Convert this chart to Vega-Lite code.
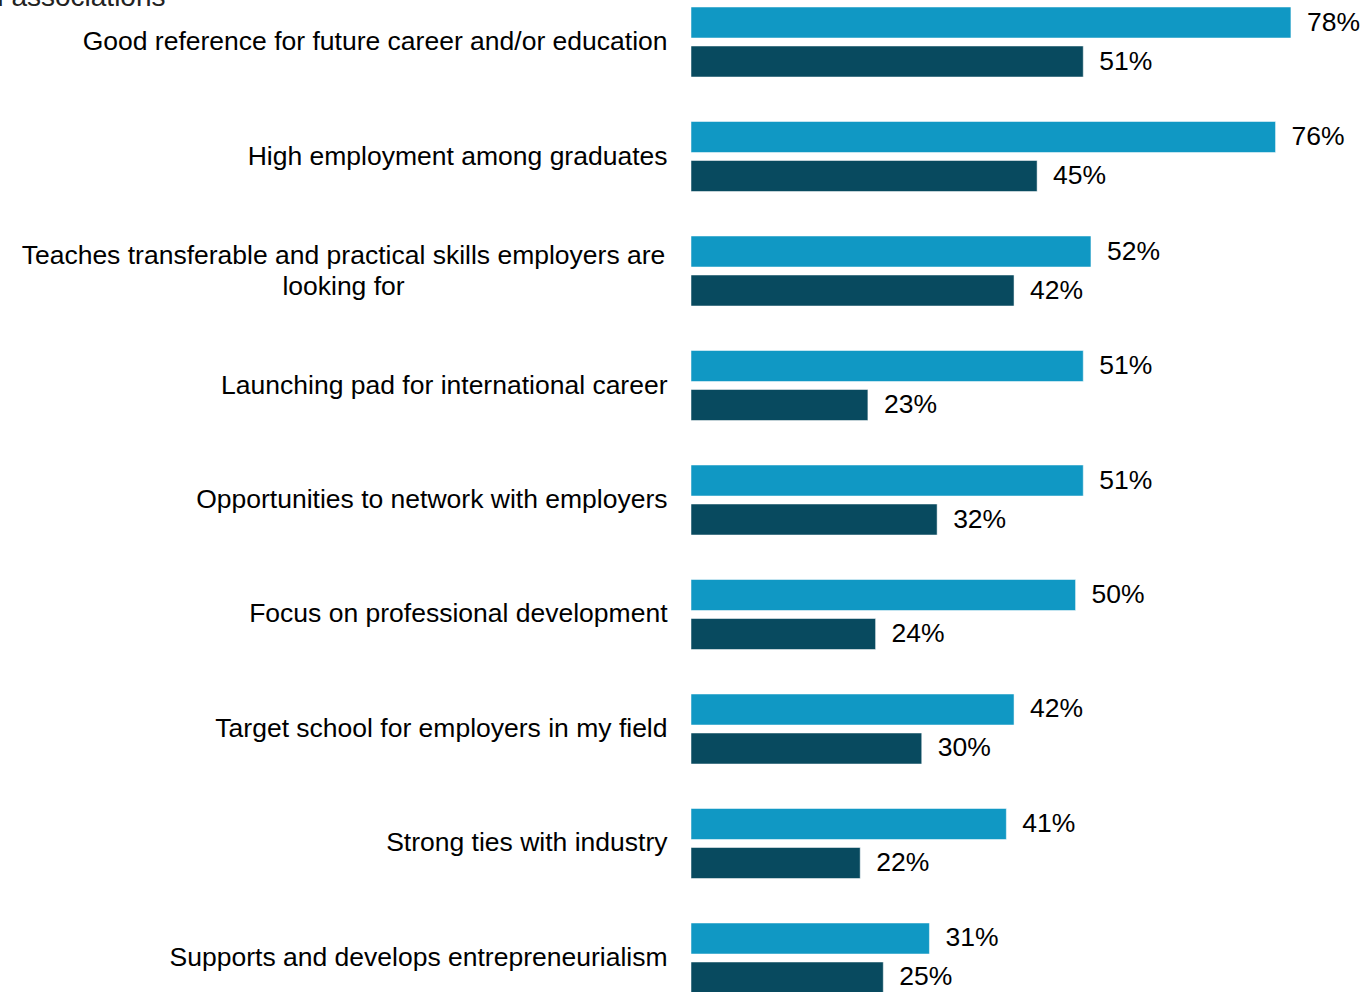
{
  "$schema": "https://vega.github.io/schema/vega-lite/v6.json",
  "autosize": {"type": "none"},
  "padding": {"left": 691, "top": 7, "right": 0, "bottom": 0},
  "width": 673,
  "height": 986,
  "background": "white",
  "data": {
    "values": [
      {"item": "Good reference for future career and/or education", "series": "Series 1", "value": 78},
      {"item": "Good reference for future career and/or education", "series": "Series 2", "value": 51},
      {"item": "High employment among graduates", "series": "Series 1", "value": 76},
      {"item": "High employment among graduates", "series": "Series 2", "value": 45},
      {"item": "Teaches transferable and practical skills employers are looking for", "series": "Series 1", "value": 52},
      {"item": "Teaches transferable and practical skills employers are looking for", "series": "Series 2", "value": 42},
      {"item": "Launching pad for international career", "series": "Series 1", "value": 51},
      {"item": "Launching pad for international career", "series": "Series 2", "value": 23},
      {"item": "Opportunities to network with employers", "series": "Series 1", "value": 51},
      {"item": "Opportunities to network with employers", "series": "Series 2", "value": 32},
      {"item": "Focus on professional development", "series": "Series 1", "value": 50},
      {"item": "Focus on professional development", "series": "Series 2", "value": 24},
      {"item": "Target school for employers in my field", "series": "Series 1", "value": 42},
      {"item": "Target school for employers in my field", "series": "Series 2", "value": 30},
      {"item": "Strong ties with industry", "series": "Series 1", "value": 41},
      {"item": "Strong ties with industry", "series": "Series 2", "value": 22},
      {"item": "Supports and develops entrepreneurialism", "series": "Series 1", "value": 31},
      {"item": "Supports and develops entrepreneurialism", "series": "Series 2", "value": 25}
    ]
  },
  "encoding": {
    "y": {
      "field": "item",
      "type": "nominal",
      "sort": null,
      "scale": {"paddingInner": 0.3886, "paddingOuter": 0},
      "axis": {
        "title": "Brand associations",
        "titleAngle": 0,
        "titleAlign": "right",
        "titleBaseline": "alphabetic",
        "titleX": -526,
        "titleY": -2,
        "titleFontSize": 28,
        "titleFont": "Liberation Sans",
        "titleFontWeight": "normal",
        "titleColor": "#222222",
        "domain": false,
        "ticks": false,
        "labelPadding": {"condition": {"test": "datum.label == 'Teaches transferable and practical skills employers are looking for'", "value": 348}, "value": 24},
        "labelAlign": {"condition": {"test": "datum.label == 'Teaches transferable and practical skills employers are looking for'", "value": "center"}, "value": "right"},
        "labelFontSize": 26.5,
        "labelFont": "Liberation Sans",
        "labelColor": "#000000",
        "labelLimit": 0,
        "labelLineHeight": 31,
        "labelOffset": {"condition": {"test": "datum.label == 'Teaches transferable and practical skills employers are looking for'", "value": -15.5}, "value": 0},
        "labelExpr": "datum.label == 'Teaches transferable and practical skills employers are looking for' ? ['Teaches transferable and practical skills employers are', 'looking for'] : datum.label"
      }
    },
    "yOffset": {
      "field": "series",
      "type": "nominal",
      "scale": {"paddingInner": 0.205, "paddingOuter": 0}
    },
    "x": {
      "field": "value",
      "type": "quantitative",
      "scale": {"domain": [0, 87.5], "nice": false},
      "axis": null
    }
  },
  "layer": [
    {
      "mark": {"type": "bar", "stroke": "#ffffff", "strokeWidth": 0.5},
      "encoding": {
        "color": {
          "field": "series",
          "type": "nominal",
          "scale": {"domain": ["Series 1", "Series 2"], "range": ["#1098C4", "#084A5F"]},
          "legend": null
        }
      }
    },
    {
      "transform": [{"calculate": "datum.value + '%'", "as": "label"}],
      "mark": {"type": "text", "align": "left", "baseline": "middle", "dx": 16, "fontSize": 26.5, "font": "Liberation Sans", "color": "#000000"},
      "encoding": {
        "text": {"field": "label", "type": "nominal"},
        "detail": {"field": "series"}
      }
    }
  ],
  "config": {"view": {"stroke": null}}
}
